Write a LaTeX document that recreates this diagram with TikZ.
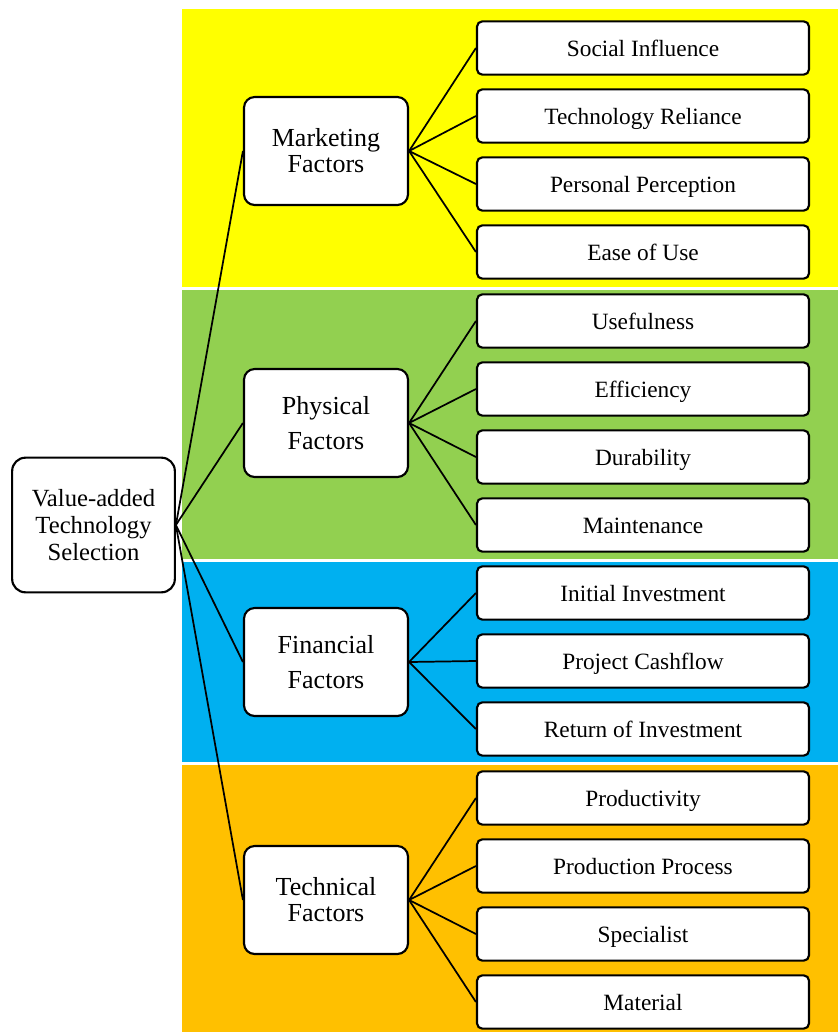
\documentclass[tikz,border=0pt]{standalone}
\usepackage{fontspec}
\setmainfont{Liberation Serif}
\definecolor{mktyellow}{HTML}{FFFF00}
\definecolor{phygreen}{HTML}{92D050}
\definecolor{finblue}{HTML}{00B0F0}
\definecolor{techorange}{HTML}{FFC000}
\begin{document}
\begin{tikzpicture}[x=0.75pt,y=-0.75pt,
        root/.style = {draw,line width=1.6pt,fill=white,rounded corners=10pt,
            minimum width=122pt,minimum height=101pt,align=center,
            font=\fontsize{18.5}{20.5}\selectfont},
        factor/.style = {draw,line width=1.6pt,fill=white,rounded corners=8pt,
            minimum width=123pt,minimum height=81pt,align=center,
            font=\fontsize{19.5}{19.5}\selectfont},
        item/.style = {draw,line width=1.6pt,fill=white,rounded corners=4pt,
            minimum width=249pt,minimum height=40pt,
            text height=14pt,text depth=1.5pt,
            font=\fontsize{17.5}{20}\selectfont},
        link/.style = {line width=1.3pt}]
                \useasboundingbox (0,0) rectangle (838,1032);

                % coloured bands behind each group
                \fill[mktyellow]  (182,9)   rectangle (838,287);
                \fill[phygreen]   (182,290) rectangle (838,559);
                \fill[finblue]    (182,562) rectangle (838,762);
                \fill[techorange] (182,765) rectangle (838,1032);

                \node[root] (sel) at (93.5,525) {Value-added\\Technology\\Selection};

                \node[factor] (mkt)  at (326,151) {Marketing\\Factors};
                \node[factor] (phy)  at (326,423) {Physical\\[7pt]Factors};
                \node[factor] (fin)  at (326,662) {Financial\\[7pt]Factors};
                \node[factor] (tech) at (326,900) {Technical\\Factors};

                \node[item] (social)     at (643,48)   {Social Influence};
                \node[item] (reliance)   at (643,116)  {Technology Reliance};
                \node[item] (perception) at (643,184)  {Personal Perception};
                \node[item] (ease)       at (643,252)  {Ease of Use};
                \node[item] (useful)     at (643,321)  {Usefulness};
                \node[item] (effic)      at (643,389)  {Efficiency};
                \node[item] (durab)      at (643,457)  {Durability};
                \node[item] (maint)      at (643,525)  {Maintenance};
                \node[item] (invest)     at (643,593)  {Initial Investment};
                \node[item] (cash)       at (643,661)  {Project Cashflow};
                \node[item] (roi)        at (643,729)  {Return of Investment};
                \node[item] (prod)       at (643,798)  {Productivity};
                \node[item] (process)    at (643,866)  {Production Process};
                \node[item] (spec)       at (643,934)  {Specialist};
                \node[item] (material)   at (643,1002) {Material};

                \draw[link] (sel.east) -- (mkt.west);
                \draw[link] (sel.east) -- (phy.west);
                \draw[link] (sel.east) -- (fin.west);
                \draw[link] (sel.east) -- (tech.west);

                \draw[link] (mkt.east) -- (social.west);
                \draw[link] (mkt.east) -- (reliance.west);
                \draw[link] (mkt.east) -- (perception.west);
                \draw[link] (mkt.east) -- (ease.west);

                \draw[link] (phy.east) -- (useful.west);
                \draw[link] (phy.east) -- (effic.west);
                \draw[link] (phy.east) -- (durab.west);
                \draw[link] (phy.east) -- (maint.west);

                \draw[link] (fin.east) -- (invest.west);
                \draw[link] (fin.east) -- (cash.west);
                \draw[link] (fin.east) -- (roi.west);

                \draw[link] (tech.east) -- (prod.west);
                \draw[link] (tech.east) -- (process.west);
                \draw[link] (tech.east) -- (spec.west);
                \draw[link] (tech.east) -- (material.west);
            \end{tikzpicture}
\end{document}
